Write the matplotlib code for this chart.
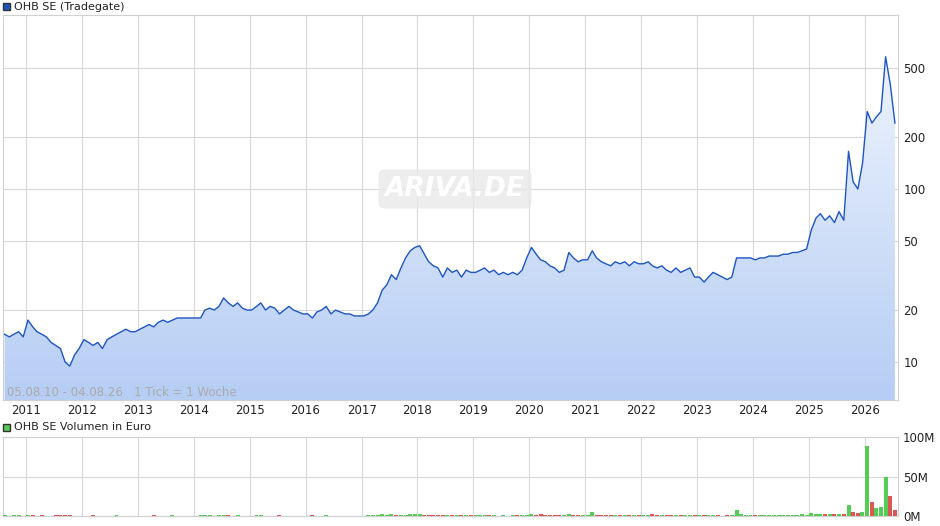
import numpy as np
import pandas as pd
import matplotlib
matplotlib.use("Agg")
import matplotlib.pyplot as plt
import matplotlib.dates as mdates
from matplotlib.patches import Polygon

p2010 = [14.5, 14, 14.5, 15, 14]
p2011 = [17.5, 16, 15, 14.5, 14, 13, 12.5, 12, 10, 9.5, 11, 12]
p2012 = [13.5, 13, 12.5, 13, 12, 13.5, 14, 14.5, 15, 15.5, 15, 15]
p2013 = [15.5, 16, 16.5, 16, 17, 17.5, 17, 17.5, 18, 18, 18, 18]
p2014 = [18, 18, 20, 20.5, 20, 21, 23.5, 22, 21, 22, 20.5, 20]
p2015 = [20, 21, 22, 20, 21, 20.5, 19, 20, 21, 20, 19.5, 19]
p2016 = [19, 18, 19.5, 20, 21, 19, 20, 19.5, 19, 19, 18.5, 18.5]
p2017 = [18.5, 19, 20, 22, 26, 28, 32, 30, 35, 40, 44, 46]
p2018 = [47, 42, 38, 36, 35, 31, 35, 33, 34, 31, 34, 33]
p2019 = [33, 34, 35, 33, 34, 32, 33, 32, 33, 32, 34, 40]
p2020 = [46, 42, 39, 38, 36, 35, 33, 34, 43, 40, 38, 39]
p2021 = [39, 44, 40, 38, 37, 36, 38, 37, 38, 36, 38, 37]
p2022 = [37, 38, 36, 35, 36, 34, 33, 35, 33, 34, 35, 31]
p2023 = [31, 29, 31, 33, 32, 31, 30, 31, 40, 40, 40, 40]
p2024 = [39, 40, 40, 41, 41, 41, 42, 42, 43, 43, 44, 45]
p2025 = [58, 68, 72, 66, 70, 64, 74, 66, 165, 110, 100, 140]
p2026 = [280, 240, 260, 280, 580, 400, 240]

v2010 = [0.8, 0.6, 0.7, 0.9, 0.5]
v2011 = [1.0, 0.8, 0.6, 0.7, 0.5, 0.6, 0.8, 1.2, 1.0, 0.9, 0.6, 0.5]
v2012 = [0.6, 0.5, 0.7, 0.5, 0.6, 0.5, 0.6, 0.7, 0.5, 0.6, 0.5, 0.4]
v2013 = [0.6, 0.5, 0.6, 0.7, 0.5, 0.6, 0.5, 0.7, 0.6, 0.5, 0.6, 0.5]
v2014 = [0.6, 0.7, 0.9, 0.8, 0.6, 0.8, 1.1, 0.8, 0.6, 0.7, 0.6, 0.5]
v2015 = [0.6, 0.7, 0.8, 0.6, 0.5, 0.6, 0.7, 0.5, 0.6, 0.5, 0.6, 0.5]
v2016 = [0.6, 0.7, 0.5, 0.6, 0.8, 0.6, 0.5, 0.6, 0.5, 0.6, 0.5, 0.6]
v2017 = [0.6, 0.7, 0.9, 1.5, 2.0, 1.5, 2.2, 1.2, 1.5, 1.8, 2.0, 2.5]
v2018 = [2.5, 1.8, 1.2, 1.0, 0.9, 1.5, 1.0, 0.8, 0.9, 1.2, 0.9, 0.8]
v2019 = [0.8, 0.9, 0.8, 0.7, 0.8, 0.6, 0.7, 0.6, 0.7, 0.8, 0.9, 1.5]
v2020 = [2.0, 1.5, 3.0, 1.8, 1.2, 1.0, 0.9, 1.2, 2.5, 1.5, 1.2, 1.0]
v2021 = [1.2, 4.5, 1.8, 1.2, 1.0, 0.9, 1.2, 0.8, 0.9, 0.8, 0.9, 0.8]
v2022 = [0.9, 1.5, 2.0, 1.2, 1.0, 0.9, 0.8, 0.9, 0.8, 0.7, 0.8, 0.9]
v2023 = [0.8, 0.9, 0.8, 0.7, 0.8, 0.6, 0.7, 0.8, 7.0, 2.0, 1.0, 0.8]
v2024 = [0.8, 0.9, 0.8, 0.7, 0.9, 0.8, 1.0, 0.9, 1.0, 1.2, 2.5, 1.5]
v2025 = [4.0, 3.0, 2.5, 2.0, 3.0, 2.0, 2.5, 3.0, 14.0, 5.0, 4.0, 5.0]
v2026 = [88.0, 18.0, 10.0, 12.0, 50.0, 25.0, 8.0]

prices = (p2010 + p2011 + p2012 + p2013 + p2014 + p2015 + p2016 + p2017 + p2018
          + p2019 + p2020 + p2021 + p2022 + p2023 + p2024 + p2025 + p2026)
volumes = (v2010 + v2011 + v2012 + v2013 + v2014 + v2015 + v2016 + v2017 + v2018
           + v2019 + v2020 + v2021 + v2022 + v2023 + v2024 + v2025 + v2026)
dates = pd.date_range("2010-08-01", periods=len(prices), freq="MS") + pd.Timedelta(days=14)
x = mdates.date2num(dates.to_pydatetime())

fig = plt.figure(figsize=(9.4, 5.26), dpi=100)
W, H = 940, 526
ax = fig.add_axes([3 / W, 1 - 400 / H, 895 / W, 385 / H])
axv = fig.add_axes([3 / W, 1 - 516 / H, 895 / W, 79 / H])

xmin = mdates.date2num(pd.Timestamp("2010-08-05"))
xmax = mdates.date2num(pd.Timestamp("2026-08-04"))
ymin, ymax = 6.05, 1010

ax.set_yscale("log")
ax.set_xlim(xmin, xmax)
ax.set_ylim(ymin, ymax)

# gradient fill under the line (uniform in screen space on the log axis)
ylin = np.linspace(ymin, ymax, 4000)
grad = ((np.log10(ylin) - np.log10(ymin)) / (np.log10(ymax) - np.log10(ymin))).reshape(-1, 1)
cmap = matplotlib.colors.LinearSegmentedColormap.from_list("g", ["#b6cdf4", "#f4f8fe"])
im = ax.imshow(grad, aspect="auto", cmap=cmap, origin="lower", vmin=0, vmax=1,
               extent=[xmin, xmax, ymin, ymax], zorder=1, interpolation="nearest")
verts = [(x[0], ymin)] + list(zip(x, prices)) + [(x[-1], ymin)]
poly = Polygon(verts, closed=True, facecolor="none", edgecolor="none")
ax.add_patch(poly)
im.set_clip_path(poly)
ax.plot(x, prices, color="#1f55c0", lw=1.0, zorder=3)

years = [pd.Timestamp(f"{y}-01-01") for y in range(2011, 2027)]
for a in (ax, axv):
    a.set_xticks(mdates.date2num(years))
    a.grid(True, color="#d8d8d8", lw=0.8)
    a.set_axisbelow(True)
    a.yaxis.tick_right()
    a.tick_params(length=0, labelsize=8.5, colors="#222222")
    for s in a.spines.values():
        s.set_color("#d0d0d0")
ax.set_xticklabels([str(y) for y in range(2011, 2027)])
ax.tick_params(axis="x", pad=3)
ax.set_yticks([10, 20, 50, 100, 200, 500])
ax.set_yticklabels(["10", "20", "50", "100", "200", "500"])
ax.yaxis.set_minor_locator(matplotlib.ticker.NullLocator())
ax.tick_params(axis="y", pad=4)

ax.text(0.005, 0.01, "05.08.10 - 04.08.26   1 Tick = 1 Woche", transform=ax.transAxes,
        fontsize=8.5, color="#aaaaaa", zorder=5)
ax.text(0.505, 0.548, "ARIVA.DE", transform=ax.transAxes, fontsize=19, fontweight="bold",
        fontstyle="italic", color="white", ha="center", va="center", zorder=4,
        bbox=dict(boxstyle="round,pad=0.25", facecolor="#e9e9e9", edgecolor="none", alpha=0.8))

# volume
colors = ["#55cc55" if i == 0 or prices[i] >= prices[i - 1] else "#dd5555"
          for i in range(len(prices))]
axv.bar(x, volumes, width=26, color=colors, zorder=3)
axv.set_xlim(xmin, xmax)
axv.set_ylim(0, 100)
axv.set_yticks([0, 50, 100])
axv.set_yticklabels(["0M", "50M", "100M"])
axv.set_xticklabels([])

fig.patches.append(matplotlib.patches.Rectangle((3 / W, 1 - 10 / H), 7 / W, 7 / H,
                   transform=fig.transFigure, facecolor="#1f55c0", edgecolor="#333"))
fig.text(14 / W, 1 - 6.5 / H, "OHB SE (Tradegate)", fontsize=8, va="center", color="#222")
fig.patches.append(matplotlib.patches.Rectangle((3 / W, 1 - 431 / H), 7 / W, 7 / H,
                   transform=fig.transFigure, facecolor="#55cc55", edgecolor="#333"))
fig.text(14 / W, 1 - 427.5 / H, "OHB SE Volumen in Euro", fontsize=8, va="center", color="#222")

fig.savefig("out.png", dpi=100, facecolor="white")
